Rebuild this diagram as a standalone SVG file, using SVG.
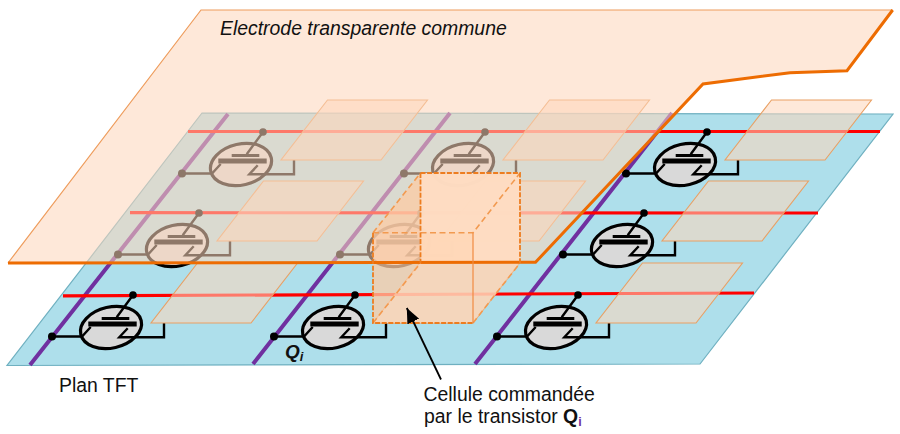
<svg xmlns="http://www.w3.org/2000/svg" width="900" height="434" viewBox="0 0 900 434">
<style>
text{font-family:"Liberation Sans",Arial,sans-serif;fill:#111}
.t{font-size:19.4px}
.base{fill:#aedfeb;stroke:#6fb0c0;stroke-width:1.2}
.bus{fill:none;stroke:#7030a0;stroke-width:4}
.row{fill:none;stroke:#ff0000;stroke-width:3.2}
.plate{fill:#fdd6bb;fill-opacity:.56;stroke:#e9a064;stroke-width:1.1}
.w{fill:none;stroke:#000;stroke-width:2.4}
.el{fill:#d9d9d9;stroke:#000;stroke-width:3.2}
.top{fill:#fdd6bb;fill-opacity:.56;stroke:none}
.thin{fill:none;stroke:#ee9c5c;stroke-width:1.2}
.thick{fill:none;stroke:#ed6c02;stroke-width:3}
.d{fill:none;stroke:#f29a50;stroke-width:1.6;stroke-dasharray:6 3.5}
.d2{fill:none;stroke:#ed7d20;stroke-width:1.8;stroke-dasharray:5 1.6}
</style>
<defs>
<g id="tft">
<ellipse class="el" cx="-40" cy="4.5" rx="31" ry="20.5" transform="rotate(-13 -40 4.5)"/>
<path class="w" d="M-99 13.5H-69L-60.3 4M-18-28L-34.3-5.7M-23.3 5.3L-31.7 14.3H13V0"/>
<path d="M-62.7-1.6H-14.3V3.4H-62.7ZM-49.3-6H-21.7V-3H-49.3Z"/>
<circle cx="-99" cy="13.5" r="4"/>
<circle cx="-18" cy="-28" r="3.8"/>
</g>
<polygon id="pl" class="plate" points="0,0 100,0 146.5,-60 46.5,-60"/>
<marker id="ah" markerUnits="userSpaceOnUse" markerWidth="16" markerHeight="14" refX="15" refY="6.5" orient="auto">
<path d="M0 0L15 6.5L0 13Z" fill="#000"/>
</marker>
</defs>
<polygon id="plan-tft" class="base" points="7,365.5 700,364 893,114 202,113"/>
<g id="connectors">
<path class="bus" d="M30 365L228 114M253 364L450 113M475 364L672 113"/>
<path class="row" d="M63 295.8L754 293M130 212.7L818 213M188 131.5L880 131.5"/>
</g>
<g id="cell-1-1"><use href="#tft" x="151" y="323"/><use href="#pl" x="151" y="323"/></g>
<g id="cell-1-2"><use href="#tft" x="373" y="323"/><use href="#pl" x="373" y="323"/></g>
<g id="cell-1-3"><use href="#tft" x="596" y="323"/><use href="#pl" x="596" y="323"/></g>
<g id="cell-2-1"><use href="#tft" x="217" y="241"/><use href="#pl" x="217" y="241"/></g>
<g id="cell-2-2"><use href="#tft" x="439" y="241"/><use href="#pl" x="439" y="241"/></g>
<g id="cell-2-3"><use href="#tft" x="662" y="241"/><use href="#pl" x="662" y="241"/></g>
<g id="cell-3-1"><use href="#tft" x="281" y="160"/><use href="#pl" x="281" y="160"/></g>
<g id="cell-3-2"><use href="#tft" x="503" y="160"/><use href="#pl" x="503" y="160"/></g>
<g id="cell-3-3"><use href="#tft" x="725" y="160"/><use href="#pl" x="725" y="160"/></g>
<g id="electrode">
<polygon class="top" points="8,263 535.5,262.3 703,84 790,72.7 847,70.7 892.7,10 201,10"/>
<path class="thin" d="M8 263L201 10H892.7"/>
</g>
<g id="cube">
<polygon points="373,232.7 420.5,173 520,173 520,263 473,323 373,323" fill="#fdd4b4" fill-opacity=".72"/>
<polygon points="420.5,173 520,173 520,263 420.5,263" fill="#fedcc2" fill-opacity=".92"/>
<polygon points="373,232.7 473,232.7 473,263 420.5,263 420.5,232.7" fill="#ffd3b0" fill-opacity=".5"/>
<polygon points="373,232.7 420.5,173 420.5,263 373,323" fill="#f79646" fill-opacity=".1"/>
<path class="thick" d="M892.7 10L847 70.7L790 72.7L703 84L535.5 262.3L8 263"/>
<path class="d" d="M373 232.7H473L520 173M373 232.7L420.5 173"/>
<path class="d" d="M473 323L520 263M373 323L420.5 263" stroke="#ed7d20"/>
<path class="d2" d="M420.5 173H520V263M420.5 173V263M373 232.7V323H473"/>
<path d="M473 232.7V323" fill="none" stroke="#f08a40" stroke-width="1.2"/>
</g>
<line x1="441" y1="379.5" x2="406.8" y2="308" stroke="#000" stroke-width="1.8" marker-end="url(#ah)"/>
<text class="t" x="220" y="34.5" font-style="italic">Electrode transparente commune</text>
<text class="t" x="59" y="392">Plan TFT</text>
<text x="285" y="357.5" font-size="19" font-weight="bold" font-style="italic">Q<tspan font-size="13" dy="3">i</tspan></text>
<text class="t" x="423.5" y="400.5">Cellule commandée</text>
<text class="t" x="424" y="422.5">par le transistor <tspan font-weight="bold">Q</tspan><tspan font-size="12.5" font-weight="bold" dy="3" style="fill:#7030a0">i</tspan></text>
</svg>
